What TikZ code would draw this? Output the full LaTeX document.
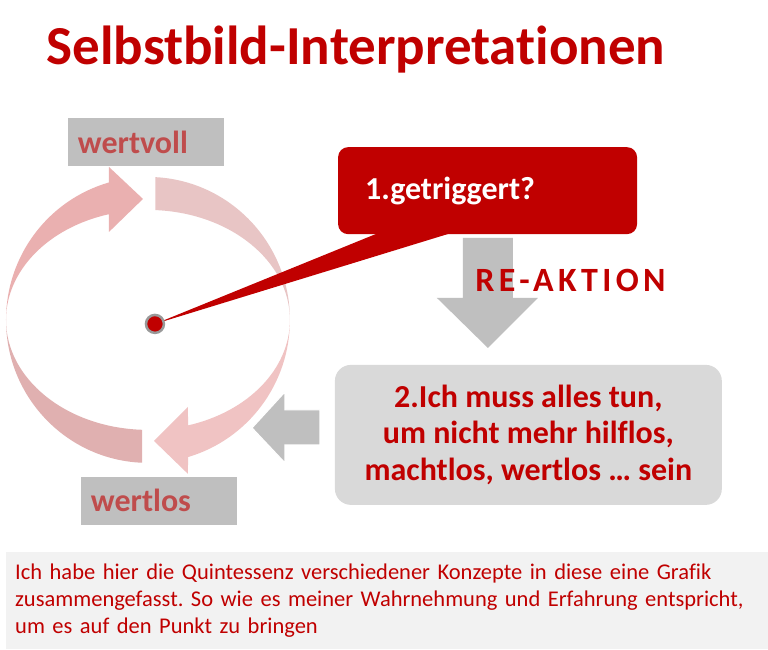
\documentclass[tikz,border=0pt]{standalone}
\usepackage{fontspec}
\setmainfont{Carlito}[Ligatures={NoCommon,NoRare}]
\newfontfamily\spacedfont{Carlito}[LetterSpace=13,Ligatures={NoCommon,NoRare}]
\definecolor{titlered}{HTML}{C00000}
\definecolor{labelred}{HTML}{BF4C4C}
\definecolor{arrowgray}{HTML}{BFBFBF}
\definecolor{boxgray}{HTML}{D9D9D9}
\definecolor{notegray}{HTML}{F2F2F2}
\definecolor{ringtl}{HTML}{EAB0B0}
\definecolor{ringtr}{HTML}{E8C5C5}
\definecolor{ringbr}{HTML}{F0C3C3}
\definecolor{ringbl}{HTML}{E0B0B0}
\newcommand{\boldsize}[2]{\fontsize{#1}{#2}\selectfont\bfseries}
\newcommand{\rx}{142}
\newcommand{\ro}{143}
\newcommand{\ri}{110}
\tikzset{
  labelbox/.style={fill=arrowgray, minimum width=156, minimum height=48,
    text width=136, inner xsep=10, inner ysep=0, align=left,
    text=labelred, font=\boldsize{32}{36}},
  redpoint/.style={circle, fill=titlered, draw=gray!80, line width=2.5,
    minimum size=18, inner sep=0},
  blockarrow/.style={fill=arrowgray, draw=white, line width=1.2}
}
\frenchspacing

\begin{document}
\begin{tikzpicture}[x=1pt,y=-1pt]
  \fill[white] (0,0) rectangle (768,649);
  \node[anchor=base west, text=titlered, font=\boldsize{55}{60}] (title)
    at (43,65) {Selbstbild-Interpretationen};

  \node[anchor=north west, fill=notegray, minimum width=762, minimum height=97,
    text width=744, inner xsep=9, align=left, text=titlered,
    font=\fontsize{22.5}{27}\selectfont] (note) at (6,552)
    {Ich habe hier die Quintessenz verschiedener Konzepte in diese eine Grafik\\
     zusammengefasst. So wie es meiner Wahrnehmung und Erfahrung entspricht,\\
     um es auf den Punkt zu bringen};

  % ring of arrows
  \fill[ringtl] (6,320) arc[start angle=180, end angle=254, x radius=\rx, y radius=\ro]
    -- (109,167) -- (143,199) -- (109,232)
    -- ({148+\rx*cos(254)},{320+\ri*sin(254)})
    arc[start angle=254, end angle=180, x radius=\rx, y radius=\ri] -- cycle;
  \fill[ringtr] ({148+\rx*cos(273)},{320+\ro*sin(273)})
    arc[start angle=273, end angle=360, x radius=\rx, y radius=\ro]
    arc[start angle=0, end angle=-87, x radius=\rx, y radius=\ri] -- cycle;
  \fill[ringbr] (290,320) arc[start angle=0, end angle=73.6, x radius=\rx, y radius=\ro]
    -- (188,474) -- (154,441) -- (188,407)
    -- ({148+\rx*cos(73.6)},{320+\ri*sin(73.6)})
    arc[start angle=73.6, end angle=0, x radius=\rx, y radius=\ri] -- cycle;
  \fill[ringbl] (6,320) arc[start angle=180, end angle=92.4, x radius=\rx, y radius=\ro]
    -- ({148+\rx*cos(92.4)},{320+\ri*sin(92.4)})
    arc[start angle=92.4, end angle=180, x radius=\rx, y radius=\ri] -- cycle;

  \node[labelbox] (high) at (146,142) {wertvoll};
  \node[labelbox] (low) at (159,501) {wertlos};

  \filldraw[blockarrow] (320,410) -- (285,410) -- (285,392) -- (252,428)
    -- (285,463) -- (285,445) -- (320,445) -- cycle;
  \fill[arrowgray] (463,238) -- (513,238) -- (513,298) -- (538,298)
    -- (488,348) -- (437,298) -- (463,298) -- cycle;

  \coordinate (hub) at (155,324);
  \node[anchor=north west, fill=titlered, rounded corners=10, minimum height=87,
    text width=245, inner xsep=27, align=left, text=white,
    font=\boldsize{32}{36}] (trig) at (338,147) {1.getriggert?};
  \fill[titlered] ([xshift=47pt,yshift=4pt]trig.south west)
    -- ([xshift=122pt,yshift=4pt]trig.south west) -- (hub) -- cycle;
  \node[redpoint] (core) at (hub) {};

  \node[anchor=base west, text=titlered, font=\fontsize{34}{38}\spacedfont\bfseries]
    (react) at (472,292) {RE-AKTION};

  \node[fill=boxgray, rounded corners=16, minimum width=387, minimum height=140,
    align=center, text=titlered, font=\boldsize{32}{36.5}] (must) at (528.5,435)
    {2.Ich muss alles tun,\\ um nicht mehr hilflos,\\ machtlos, wertlos … sein};
\end{tikzpicture}
\end{document}
